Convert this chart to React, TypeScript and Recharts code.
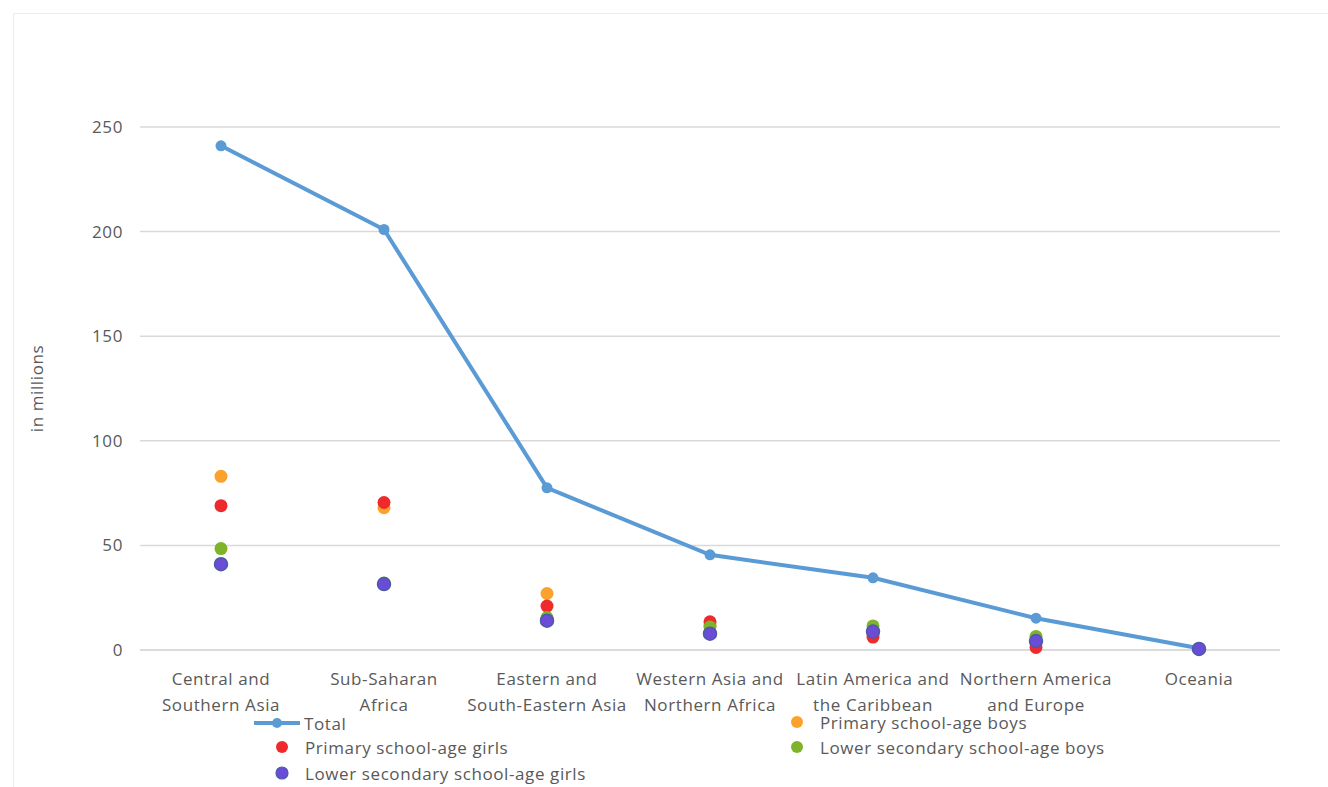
import { ComposedChart, Line, XAxis, YAxis, CartesianGrid } from 'recharts';

// regions (x axis)
const regions = [
  'Central and\nSouthern Asia',
  'Sub-Saharan\nAfrica',
  'Eastern and\nSouth-Eastern Asia',
  'Western Asia and\nNorthern Africa',
  'Latin America and\nthe Caribbean',
  'Northern America\nand Europe',
  'Oceania',
];

// values in millions
const total = [241, 201, 77.5, 45.5, 34.5, 15.2, 0.8];
const primaryBoys = [83, 68, 27, 12, 8, 5, 0.5];
const primaryGirls = [69, 70.5, 21, 13.5, 6.2, 1.2, 0.5];
const lowerSecBoys = [48.5, 32, 15.5, 11, 11.5, 6.5, 0.4];
const lowerSecGirls = [41, 31.5, 14, 7.8, 8.8, 4.3, 0.5];

const yTicks = [0, 50, 100, 150, 200, 250];

const data = regions.map((r, i) => ({
  region: r,
  total: total[i],
  boys: primaryBoys[i],
  girls: primaryGirls[i],
  lsBoys: lowerSecBoys[i],
  lsGirls: lowerSecGirls[i],
}));

const FONT = '"Open Sans", "Liberation Sans", sans-serif';
const TEXT = '#595959';
const LS = 0.6;

const BLUE = '#5b9bd5';
const ORANGE = '#fba22d';
const RED = '#ef2a2c';
const GREEN = '#7fb42a';
const PURPLE = '#6a4cd6';

function RegionTick(props: any) {
  const { x, y, payload } = props;
  const lines = String(payload.value).split('\n');
  return (
    <text x={x} y={y} textAnchor="middle" fill={TEXT} fontSize={17} fontFamily={FONT} letterSpacing={LS}>
      {lines.map((l, i) => (
        <tspan key={i} x={x} dy={i === 0 ? 27 : 26}>{l}</tspan>
      ))}
    </text>
  );
}

function Dot({ cx, cy, r, fill, stroke }: { cx: number; cy: number; r: number; fill: string; stroke?: string }) {
  return <circle cx={cx} cy={cy} r={r} fill={fill} stroke={stroke || 'none'} strokeWidth={1.5} />;
}

function LegendBox() {
  const item = (x: number, y: number, label: string, color: string, line = false, stroke?: string) => (
    <div style={{ position: 'absolute', left: x, top: y - 11, height: 22, display: 'flex', alignItems: 'center' }}>
      <svg width={line ? 52 : 31} height={22}>
        {line && <line x1={2} y1={11} x2={48} y2={11} stroke={color} strokeWidth={4} />}
        <circle cx={line ? 25 : 8} cy={11} r={line ? 5 : 6} fill={color} stroke={stroke || 'none'} strokeWidth={1.2} />
      </svg>
      <span style={{ fontFamily: FONT, fontSize: 17, letterSpacing: LS, color: TEXT, whiteSpace: 'nowrap' }}>{label}</span>
    </div>
  );
  return (
    <div style={{ position: 'absolute', left: 0, top: 708, width: 1328, height: 79 }}>
      {item(252, 15, 'Total', BLUE, true)}
      {item(789, 14, 'Primary school-age boys', ORANGE)}
      {item(274, 39, 'Primary school-age girls', RED)}
      {item(789, 39, 'Lower secondary school-age boys', GREEN)}
      {item(274, 65, 'Lower secondary school-age girls', PURPLE, false, '#4b5aa8')}
    </div>
  );
}

const dotSeries = [
  { key: 'boys', name: 'Primary school-age boys', color: ORANGE, stroke: undefined },
  { key: 'girls', name: 'Primary school-age girls', color: RED, stroke: undefined },
  { key: 'lsBoys', name: 'Lower secondary school-age boys', color: GREEN, stroke: undefined },
  { key: 'lsGirls', name: 'Lower secondary school-age girls', color: PURPLE, stroke: '#4b5aa8' },
];

export default function App() {
  return (
    <div style={{ position: 'absolute', left: 0, top: 0, width: 1328, height: 787, background: '#fff', overflow: 'hidden' }}>
      <div style={{ position: 'absolute', left: 13, top: 13, width: 1320, height: 780, border: '1px solid #ececec' }} />
      <ComposedChart
        width={1328}
        height={787}
        data={data}
        margin={{ top: 127, right: 48, bottom: 77, left: 80 }}
      >
        <CartesianGrid vertical={false} stroke="#d9d9d9" strokeWidth={1.5} />
        <XAxis
          dataKey="region"
          axisLine={{ stroke: '#d9d9d9', strokeWidth: 1.5 }}
          tickLine={false}
          tick={<RegionTick />}
          interval={0}
          height={60}
          padding={{ left: 81, right: 81 }}
        />
        <YAxis
          domain={[0, 250]}
          ticks={yTicks}
          axisLine={false}
          tickLine={false}
          width={60}
          tickMargin={17}
          tick={{ fill: TEXT, fontSize: 17, fontFamily: FONT, letterSpacing: LS, dx: 6 }}
          label={{
            value: 'in millions',
            angle: -90,
            position: 'insideLeft',
            dx: -48,
            style: { fill: TEXT, fontSize: 17, fontFamily: FONT, letterSpacing: LS, textAnchor: 'middle' },
          }}
        />
        <Line
          dataKey="total"
          name="Total"
          stroke={BLUE}
          strokeWidth={4}
          dot={(p: any) => <Dot key={p.index} cx={p.cx} cy={p.cy} r={5.5} fill={BLUE} />}
          activeDot={false}
          isAnimationActive={false}
        />
        {dotSeries.map((s) => (
          <Line
            key={s.key}
            dataKey={s.key}
            name={s.name}
            stroke="none"
            dot={(p: any) => <Dot key={p.index} cx={p.cx} cy={p.cy} r={6.5} fill={s.color} stroke={s.stroke} />}
            activeDot={false}
            isAnimationActive={false}
          />
        ))}
      </ComposedChart>
      <LegendBox />
    </div>
  );
}
